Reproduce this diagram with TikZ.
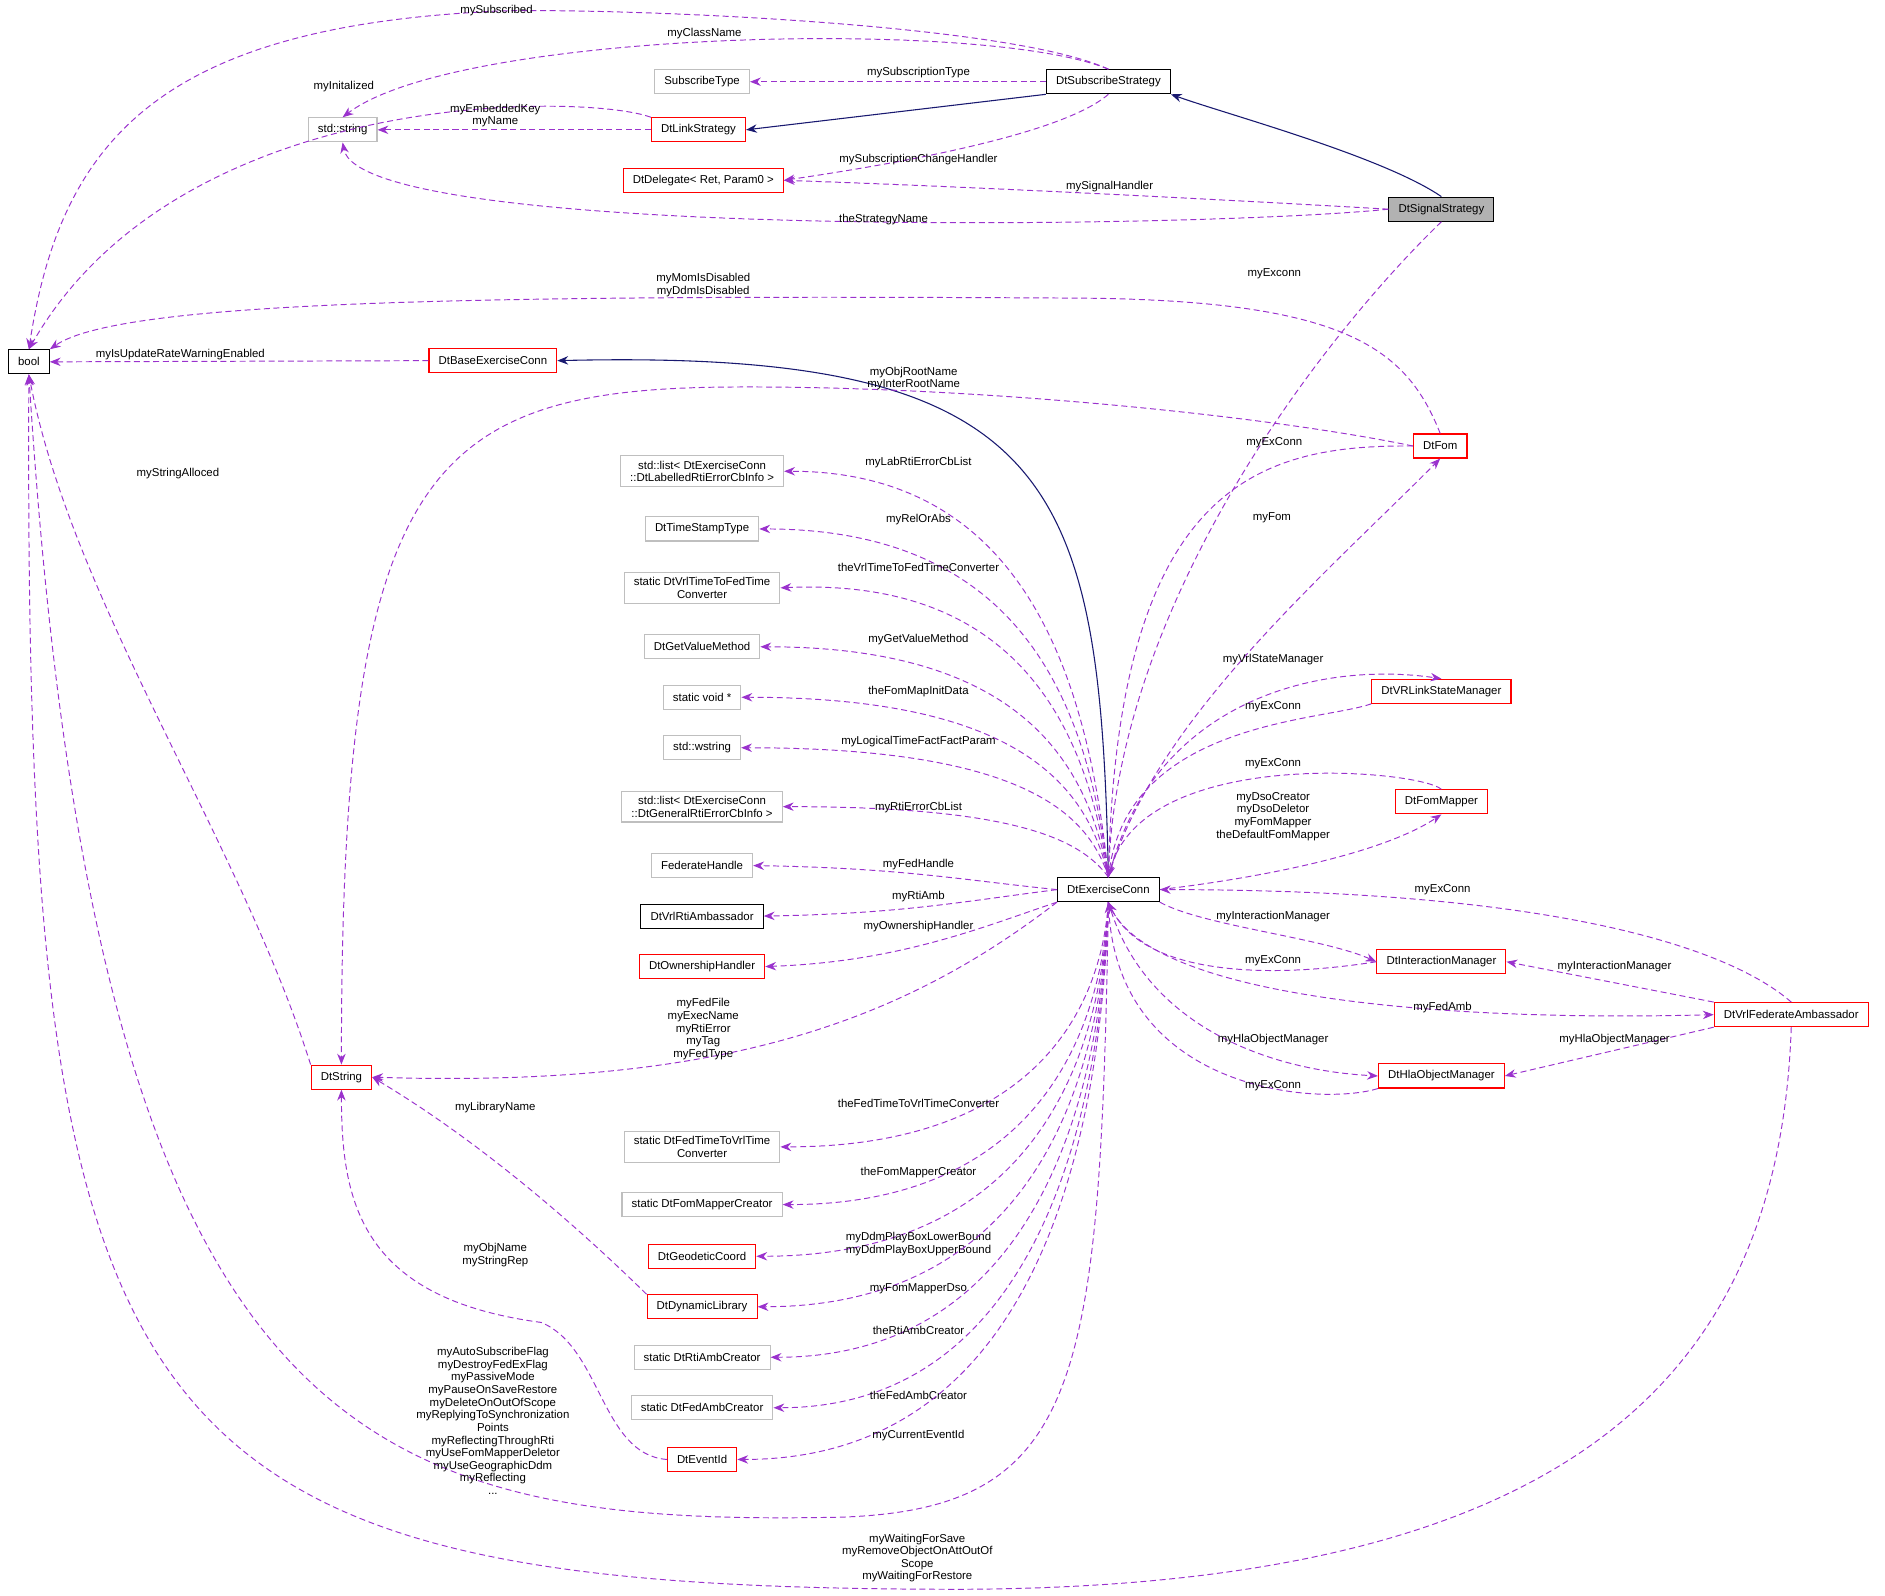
\documentclass[tikz,border=0pt]{standalone}
\usepackage{fontspec}
\setmainfont{Liberation Sans}
\usetikzlibrary{arrows.meta}
\definecolor{depcol}{HTML}{9A32CD}
\definecolor{inhcol}{HTML}{191970}
\tikzset{%
  cls/.style={rectangle, draw=black, fill=white, font=\fontsize{9.5}{10.5}\selectfont, minimum height=20, inner xsep=8pt, inner ysep=4pt, align=center, line width=0.9pt},
  grayCls/.style={cls, draw=black!25},
  redCls/.style={cls, draw=red},
  % dependency and inheritance arrows
  dep/.style={dash pattern=on 5pt off 3pt, line width=0.8pt, draw=depcol, -{Stealth[length=9pt,width=7pt]}, fill=none},
  inh/.style={draw=inhcol, line width=0.9pt, -{Stealth[length=9pt,width=7pt]}},
  lbl/.style={font=\fontsize{9.5}{10.5}\selectfont, align=center, inner sep=0pt, text=black}
}
\begin{document}
\begin{tikzpicture}[x=1pt,y=-1pt]
    \useasboundingbox (0,0) rectangle (1568,1327);
    %Nodes
    \node[cls] (bool) at (24,301) {bool};
    \node[cls] (sub) at (922,68) {DtSubscribeStrategy};
    \node[grayCls] (stype) at (584,68) {SubscribeType};
    \node[redCls] (link) at (581,108) {DtLinkStrategy};
    \node[grayCls] (str) at (285,108) {std::string};
    \node[redCls] (deleg) at (585,150) {DtDelegate\textless{} Ret, Param0 \textgreater};
    \node[cls, fill=black!30] (sig) at (1199,174) {DtSignalStrategy};
    \node[redCls] (base) at (410,300) {DtBaseExerciseConn};
    \node[redCls] (fom) at (1198,371) {DtFom};
    \node[grayCls] (lablist) at (584,392) {std::list\textless{} DtExerciseConn\\::DtLabelledRtiErrorCbInfo \textgreater};
    \node[grayCls] (tst) at (584,440) {DtTimeStampType};
    \node[grayCls] (vrl2fed) at (584,489) {static DtVrlTimeToFedTime\\Converter};
    \node[grayCls] (gvm) at (584,538) {DtGetValueMethod};
    \node[grayCls] (svoid) at (584,580) {static void *};
    \node[grayCls] (wstr) at (584,622) {std::wstring};
    \node[grayCls] (genlist) at (584,671) {std::list\textless{} DtExerciseConn\\::DtGeneralRtiErrorCbInfo \textgreater};
    \node[grayCls] (fedh) at (584,720) {FederateHandle};
    \node[cls] (rtiamb) at (584,762) {DtVrlRtiAmbassador};
    \node[redCls] (own) at (584,804) {DtOwnershipHandler};
    \node[cls] (ec) at (922,740) {DtExerciseConn};
    \node[redCls] (vsm) at (1199,575) {DtVRLinkStateManager};
    \node[redCls] (fmap) at (1199,667) {DtFomMapper};
    \node[redCls] (im) at (1199,800) {DtInteractionManager};
    \node[redCls] (fa) at (1490,844) {DtVrlFederateAmbassador};
    \node[redCls] (hla) at (1199,895) {DtHlaObjectManager};
    \node[redCls] (dts) at (284,896) {DtString};
    \node[grayCls] (fed2vrl) at (584,954) {static DtFedTimeToVrlTime\\Converter};
    \node[grayCls] (fmc) at (584,1002) {static DtFomMapperCreator};
    \node[redCls] (geo) at (584,1045) {DtGeodeticCoord};
    \node[redCls] (dyn) at (584,1087) {DtDynamicLibrary};
    \node[grayCls] (rac) at (584,1129) {static DtRtiAmbCreator};
    \node[grayCls] (fac) at (584,1171) {static DtFedAmbCreator};
    \node[redCls] (eid) at (584,1214) {DtEventId};

    %Inheritance
    \draw[inh] (sub.south west) -- (link.east);
    \draw[inh] (sig.north) .. controls (1150,130) and (1020,95) .. (sub.south east);
    \draw[inh] (ec.north) .. controls (915,400) and (880,290) .. (base.east);

    %Strategies
    \draw[dep] (sub.north) .. controls (830,15) and (450,5) .. (400,10) .. controls (130,25) and (50,120) .. (bool.north) node[lbl] at (413,9) {mySubscribed};
    \draw[dep] (sub.north) .. controls (820,15) and (380,25) .. (str.north) node[lbl] at (586,28) {myClassName};
    \draw[dep] (sub.west) -- (stype.east) node[lbl] at (764,60) {mySubscriptionType};
    \draw[dep] (sub.south) .. controls (880,115) and (720,140) .. (deleg.east) node[lbl] at (764,133) {mySubscriptionChangeHandler};
    \draw[dep] (link.north west) .. controls (490,78) and (150,70) .. (bool.north) node[lbl] at (286,72) {myInitalized};
    \draw[dep] (link.west) -- (str.east) node[lbl] at (412,96) {myEmbeddedKey\\myName};
    \draw[dep] (sig.west) .. controls (1000,165) and (800,155) .. (deleg.east) node[lbl] at (923,155) {mySignalHandler};
    \draw[dep] (sig.west) .. controls (1000,190) and (300,200) .. (str.south) node[lbl] at (735,183) {theStrategyName};
    \draw[dep] (sig.south) .. controls (1100,280) and (930,500) .. (ec.north) node[lbl] at (1060,228) {myExconn};

    %Fom and base
    \draw[dep] (fom.north) .. controls (1170,290) and (1120,250) .. (900,248) .. controls (400,245) and (100,250) .. (bool.north east) node[lbl] at (585,237) {myMomIsDisabled\\myDdmIsDisabled};
    \draw[dep] (base.west) -- (bool.east) node[lbl] at (150,295) {myIsUpdateRateWarningEnabled};
    \draw[dep] (fom.west) .. controls (1050,345) and (800,320) .. (600,322) .. controls (350,325) and (284,400) .. (dts.north) node[lbl] at (760,315) {myObjRootName\\myInterRootName};
    \draw[dep] (fom.west) .. controls (1050,370) and (930,400) .. (ec.north) node[lbl] at (1060,368) {myExConn};
    \draw[dep] (ec.north) .. controls (960,600) and (1100,480) .. (fom.south) node[lbl] at (1058,431) {myFom};
    \draw[dep] (dts.north west) .. controls (200,700) and (60,500) .. (bool.south) node[lbl] at (148,394) {myStringAlloced};

    %Left column
    \draw[dep] (ec.north) .. controls (905,560) and (850,392) .. (lablist.east) node[lbl] at (764,385) {myLabRtiErrorCbList};
    \draw[dep] (ec.north) .. controls (905,585) and (850,440) .. (tst.east) node[lbl] at (764,432) {myRelOrAbs};
    \draw[dep] (ec.north) .. controls (905,610) and (850,480) .. (vrl2fed.east) node[lbl] at (764,472) {theVrlTimeToFedTimeConverter};
    \draw[dep] (ec.north) .. controls (905,635) and (850,538) .. (gvm.east) node[lbl] at (764,532) {myGetValueMethod};
    \draw[dep] (ec.north) .. controls (905,655) and (850,580) .. (svoid.east) node[lbl] at (764,575) {theFomMapInitData};
    \draw[dep] (ec.north) .. controls (905,676) and (850,622) .. (wstr.east) node[lbl] at (764,617) {myLogicalTimeFactFactParam};
    \draw[dep] (ec.north) .. controls (900,700) and (850,671) .. (genlist.east) node[lbl] at (764,672) {myRtiErrorCbList};
    \draw[dep] (ec.west) .. controls (800,732) and (750,722) .. (fedh.east) node[lbl] at (764,719) {myFedHandle};
    \draw[dep] (ec.west) .. controls (800,750) and (750,760) .. (rtiamb.east) node[lbl] at (764,746) {myRtiAmb};
    \draw[dep] (ec.south west) .. controls (820,770) and (750,800) .. (own.east) node[lbl] at (764,771) {myOwnershipHandler};
    \draw[dep] (ec.south west) .. controls (750,850) and (600,905) .. (dts.east) node[lbl] at (585,856) {myFedFile\\myExecName\\myRtiError\\myTag\\myFedType};
    \draw[dep] (ec.south) .. controls (915,850) and (850,954) .. (fed2vrl.east) node[lbl] at (764,918) {theFedTimeToVrlTimeConverter};
    \draw[dep] (ec.south) .. controls (915,875) and (850,1002) .. (fmc.east) node[lbl] at (764,975) {theFomMapperCreator};
    \draw[dep] (ec.south) .. controls (915,895) and (850,1045) .. (geo.east) node[lbl] at (764,1035) {myDdmPlayBoxLowerBound\\myDdmPlayBoxUpperBound};
    \draw[dep] (ec.south) .. controls (915,915) and (850,1087) .. (dyn.east) node[lbl] at (764,1072) {myFomMapperDso};
    \draw[dep] (ec.south) .. controls (915,935) and (850,1129) .. (rac.east) node[lbl] at (764,1107) {theRtiAmbCreator};
    \draw[dep] (ec.south) .. controls (915,955) and (850,1171) .. (fac.east) node[lbl] at (764,1161) {theFedAmbCreator};
    \draw[dep] (ec.south) .. controls (915,975) and (850,1214) .. (eid.east) node[lbl] at (764,1194) {myCurrentEventId};
    \draw[dep] (ec.south) .. controls (915,1150) and (900,1255) .. (700,1262) .. controls (300,1270) and (80,1200) .. (bool.south) node[lbl] at (410,1182) {myAutoSubscribeFlag\\myDestroyFedExFlag\\myPassiveMode\\myPauseOnSaveRestore\\myDeleteOnOutOfScope\\myReplyingToSynchronization\\Points\\myReflectingThroughRti\\myUseFomMapperDeletor\\myUseGeographicDdm\\myReflecting\\...};
    \draw[dep] (fa.south) .. controls (1480,1150) and (1300,1320) .. (800,1322) .. controls (100,1322) and (20,1200) .. (bool.south) node[lbl] at (763,1296) {myWaitingForSave\\myRemoveObjectOnAttOutOf\\Scope\\myWaitingForRestore};
    \draw[dep] (dyn.north west) .. controls (480,1020) and (400,950) .. (dts.east) node[lbl] at (412,921) {myLibraryName};
    \draw[dep] (eid.west) .. controls (500,1210) and (500,1120) .. (450,1100) .. controls (300,1080) and (284,1000) .. (dts.south) node[lbl] at (412,1044) {myObjName\\myStringRep};

    %Right side
    \draw[dep] (ec.north) .. controls (960,580) and (1100,550) .. (vsm.north) node[lbl] at (1059,549) {myVrlStateManager};
    \draw[dep] (vsm.south west) .. controls (1100,600) and (940,600) .. (ec.north) node[lbl] at (1059,588) {myExConn};
    \draw[dep] (fmap.north) .. controls (1180,640) and (950,620) .. (ec.north) node[lbl] at (1059,635) {myExConn};
    \draw[dep] (ec.east) .. controls (1050,730) and (1150,710) .. (fmap.south) node[lbl] at (1059,679) {myDsoCreator\\myDsoDeletor\\myFomMapper\\theDefaultFomMapper};
    \draw[dep] (fa.north) .. controls (1440,790) and (1300,740) .. (ec.east) node[lbl] at (1200,740) {myExConn};
    \draw[dep] (ec.south east) .. controls (1000,770) and (1100,780) .. (im.west) node[lbl] at (1059,762) {myInteractionManager};
    \draw[dep] (im.west) .. controls (1050,815) and (950,810) .. (ec.south) node[lbl] at (1059,799) {myExConn};
    \draw[dep] (ec.south) .. controls (950,830) and (1200,850) .. (fa.west) node[lbl] at (1200,838) {myFedAmb};
    \draw[dep] (fa.north west) -- (im.east) node[lbl] at (1343,804) {myInteractionManager};
    \draw[dep] (fa.south west) -- (hla.east) node[lbl] at (1343,865) {myHlaObjectManager};
    \draw[dep] (ec.south) .. controls (950,850) and (1050,890) .. (hla.west) node[lbl] at (1059,865) {myHlaObjectManager};
    \draw[dep] (hla.south west) .. controls (1100,920) and (930,910) .. (ec.south) node[lbl] at (1059,903) {myExConn};
\end{tikzpicture}
\end{document}
